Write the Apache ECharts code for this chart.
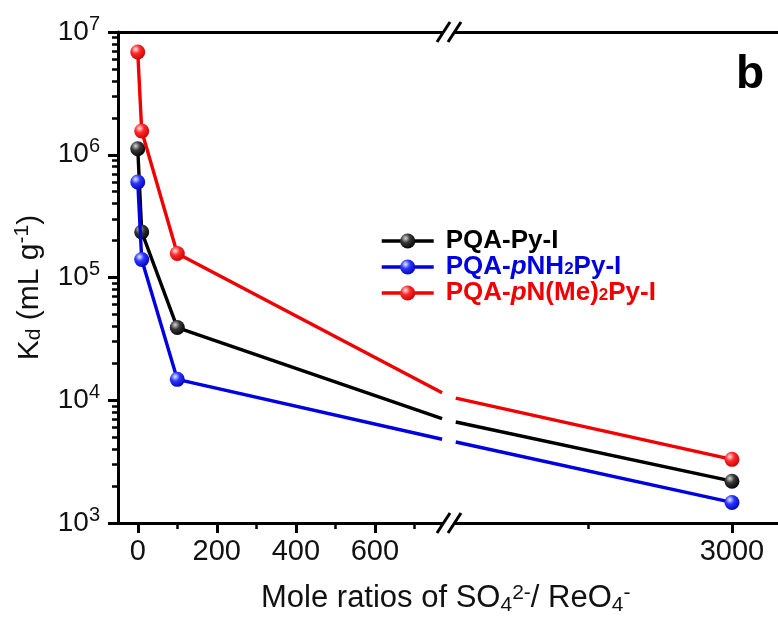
<!DOCTYPE html>
<html>
<head>
<meta charset="utf-8">
<script src="https://cdn.jsdelivr.net/npm/echarts@6/dist/echarts.min.js"></script>
<style>
html, body { margin: 0; padding: 0; background: #fff; }
#chart { width: 778px; height: 617px; }
</style>
</head>
<body>
<div id="chart"></div>
<script>
// Distribution coefficient Kd (mL/g) versus SO4(2-)/ReO4(-) mole ratio
const ratiosLow = [0, 10, 100];
const ratioHigh = 3000;
const kdPyI = [1.12e6, 2.35e5, 3.91e4, 2.19e3];
const kdNH2 = [6.0e5, 1.40e5, 1.48e4, 1.47e3];
const kdNMe2 = [6.87e6, 1.56e6, 1.57e5, 3.30e3];

// Where each curve meets the broken x-axis: left side (770) and right side (2040)
const breakEdgeX = [770, 2040];
const edgePyI = [7.08e3, 6.65e3];
const edgeNH2 = [4.81e3, 4.57e3];
const edgeNMe2 = [1.15e4, 1.04e4];

const seriesNames = ['PQA-Py-I', 'PQA-pNH2Py-I', 'PQA-pN(Me)2Py-I'];

// Axis ticks and labels
const xMajorLow = [0, 200, 400, 600];
const xMinorLow = [100, 300, 500, 700];
const xMajorHigh = [3000];
const xMinorHigh = [2500];
const yMajor = [1e3, 1e4, 1e5, 1e6, 1e7];
const yMinor = [];
for (let d = 3; d < 7; d++) {
  for (let m = 2; m <= 9; m++) yMinor.push(m * Math.pow(10, d));
}

// Layout of the two panels of the broken x-axis
const FONT = '"Liberation Sans", Arial, Helvetica, sans-serif';
const PLOT = { left: 118, top: 32, bottom: 94, split: 450 };
const xRangeLow = [-50, 790];
const xRangeHigh = [2020, 3160];

function ball(c0, c1, c2) {
  return {
    type: 'radial', x: 0.36, y: 0.32, r: 0.75,
    colorStops: [
      { offset: 0, color: c0 },
      { offset: 0.4, color: c1 },
      { offset: 1, color: c2 }
    ]
  };
}

const palette = [
  { line: '#000000', ball: ball('#d6d6d6', '#383838', '#000000') },
  { line: '#0000e0', ball: ball('#e8eaff', '#2a36ff', '#0000b0') },
  { line: '#f00000', ball: ball('#ffe2e2', '#ff2a2a', '#c40000') }
];

const kdSets = [kdPyI, kdNH2, kdNMe2];
const edgeSets = [edgePyI, edgeNH2, edgeNMe2];

function lineSeries(i, panel) {
  const kd = kdSets[i];
  const edge = edgeSets[i];
  let data;
  if (panel === 0) {
    data = ratiosLow.map((x, k) => [x, kd[k]]);
    data.push({ value: [breakEdgeX[0], edge[0]], symbol: 'none' });
  } else {
    data = [
      { value: [breakEdgeX[1], edge[1]], symbol: 'none' },
      [ratioHigh, kd[3]]
    ];
  }
  return {
    name: seriesNames[i],
    type: 'line',
    xAxisIndex: panel === 0 ? 0 : 3,
    yAxisIndex: panel === 0 ? 0 : 2,
    data: data,
    symbol: 'circle',
    symbolSize: 15,
    lineStyle: { color: palette[i].line, width: 3.4 },
    itemStyle: { color: palette[i].ball },
    emphasis: { disabled: true },
    z: 3 + i
  };
}

const series = [];
for (let i = 0; i < 3; i++) {
  series.push(lineSeries(i, 0));
  series.push(lineSeries(i, 1));
}

const axisLineStyle = { color: '#000', width: 3 };
const tickMajor = { color: '#000', width: 3 };
const tickMinor = { color: '#000', width: 2.5 };

function bottomAxis(grid, range, majors, minors) {
  return [
    {
      gridIndex: grid, type: 'value', position: 'bottom', min: range[0], max: range[1],
      axisLine: { onZero: false, lineStyle: axisLineStyle },
      axisTick: { customValues: majors, length: 10, lineStyle: tickMajor },
      axisLabel: {
        customValues: majors, fontSize: 29, margin: 14, color: '#111', fontFamily: FONT,
        formatter: v => String(v)
      },
      splitLine: { show: false }
    },
    {
      gridIndex: grid, type: 'value', position: 'bottom', min: range[0], max: range[1],
      axisLine: { show: false, onZero: false },
      axisTick: { customValues: minors, length: 6, lineStyle: tickMinor },
      axisLabel: { show: false },
      splitLine: { show: false }
    },
    {
      gridIndex: grid, type: 'value', position: 'top', min: range[0], max: range[1],
      axisLine: { onZero: false, lineStyle: axisLineStyle },
      axisTick: { show: false },
      axisLabel: { show: false },
      splitLine: { show: false }
    }
  ];
}

const legendText = {
  'PQA-Py-I': 'PQA-Py-I',
  'PQA-pNH2Py-I': 'PQA-{bi|p}NH{bs|2}Py-I',
  'PQA-pN(Me)2Py-I': 'PQA-{ri|p}N(Me){rs|2}Py-I'
};

// "//" marks drawn on the top and bottom axis lines at the break
function breakMark(y) {
  const cx = PLOT.split - 1;
  const h = 10;
  const s = { stroke: '#000', lineWidth: 3 };
  return [
    { type: 'polygon', z: 100, silent: true,
      shape: { points: [[cx - 11, y + h], [cx + 1, y - h], [cx + 12, y - h], [cx, y + h]] },
      style: { fill: '#fff' } },
    { type: 'line', z: 101, silent: true,
      shape: { x1: cx - 12, y1: y + h, x2: cx + 1, y2: y - h }, style: s },
    { type: 'line', z: 101, silent: true,
      shape: { x1: cx - 1, y1: y + h, x2: cx + 12, y2: y - h }, style: s }
  ];
}

const chart = echarts.init(document.getElementById('chart'), null, { renderer: 'canvas' });
const H = 617;
const plotBottomY = H - PLOT.bottom;

chart.setOption({
  backgroundColor: '#fff',
  animation: false,
  textStyle: { fontFamily: FONT },
  title: [
    {
      text: 'Mole ratios of SO{sub|4}{sup|2-}/ ReO{sub|4}{sup|-}',
      left: 261, top: 583, padding: 0,
      textStyle: {
        fontFamily: FONT, fontSize: 31, fontWeight: 'normal', color: '#111',
        rich: {
          sub: { fontFamily: FONT, fontSize: 21, color: '#111', verticalAlign: 'bottom', lineHeight: 21, padding: [0, 0, -2, 0] },
          sup: { fontFamily: FONT, fontSize: 21, color: '#111', verticalAlign: 'top', lineHeight: 21 }
        }
      }
    },
    {
      text: 'b', left: 736, top: 52, padding: 0,
      textStyle: { fontFamily: FONT, fontSize: 46, fontWeight: 'bold', color: '#000' }
    }
  ],
  legend: {
    orient: 'vertical', left: 380, top: 228, padding: 0,
    itemWidth: 52, itemHeight: 19, itemGap: 0,
    selectedMode: false,
    lineStyle: { width: 3.4 },
    data: seriesNames.map((n, i) => ({ name: n, textStyle: { color: palette[i].line } })),
    formatter: name => legendText[name],
    textStyle: {
      fontFamily: FONT, fontSize: 26, fontWeight: 'bold', padding: [0, 0, 0, 7],
      rich: {
        bi: { fontFamily: FONT, fontSize: 26, fontWeight: 'bold', fontStyle: 'italic', color: palette[1].line },
        bs: { fontFamily: FONT, fontSize: 17, fontWeight: 'bold', color: palette[1].line, verticalAlign: 'bottom', padding: [0, 0, 2, 0] },
        ri: { fontFamily: FONT, fontSize: 26, fontWeight: 'bold', fontStyle: 'italic', color: palette[2].line },
        rs: { fontFamily: FONT, fontSize: 17, fontWeight: 'bold', color: palette[2].line, verticalAlign: 'bottom', padding: [0, 0, 2, 0] }
      }
    }
  },
  grid: [
    { left: PLOT.left, top: PLOT.top, bottom: PLOT.bottom, width: PLOT.split - PLOT.left },
    { left: PLOT.split, top: PLOT.top, bottom: PLOT.bottom, right: 0 }
  ],
  xAxis: [].concat(
    bottomAxis(0, xRangeLow, xMajorLow, xMinorLow),
    bottomAxis(1, xRangeHigh, xMajorHigh, xMinorHigh)
  ),
  yAxis: [
    {
      gridIndex: 0, type: 'log', logBase: 10, min: 1e3, max: 1e7, position: 'left',
      axisLine: { onZero: false, lineStyle: axisLineStyle },
      axisTick: { customValues: yMajor, length: 10, lineStyle: tickMajor },
      axisLabel: {
        customValues: yMajor, margin: 18, color: '#111',
        formatter: v => '{b|10}{s|' + Math.round(Math.log10(v)) + '}',
        rich: {
          b: { fontFamily: FONT, fontSize: 28, color: '#111', lineHeight: 36 },
          s: { fontFamily: FONT, fontSize: 20, color: '#111', verticalAlign: 'top', lineHeight: 20 }
        }
      },
      splitLine: { show: false },
      name: '{n|K}{d|d}{n| (mL g}{e|-1}{n|)}',
      nameLocation: 'middle', nameRotate: 90, nameGap: 70,
      nameTextStyle: {
        fontFamily: FONT, fontSize: 30, color: '#111', padding: [0, 20, 0, 0],
        rich: {
          n: { fontFamily: FONT, fontSize: 30, color: '#111', lineHeight: 36 },
          d: { fontFamily: FONT, fontSize: 21, color: '#111', verticalAlign: 'bottom', lineHeight: 21, padding: [0, 0, 3, 0] },
          e: { fontFamily: FONT, fontSize: 21, color: '#111', verticalAlign: 'top', lineHeight: 21 }
        }
      }
    },
    {
      gridIndex: 0, type: 'log', logBase: 10, min: 1e3, max: 1e7, position: 'left',
      axisLine: { show: false, onZero: false },
      axisTick: { customValues: yMinor, length: 6, lineStyle: tickMinor },
      axisLabel: { show: false },
      splitLine: { show: false }
    },
    {
      gridIndex: 1, type: 'log', logBase: 10, min: 1e3, max: 1e7, show: false
    }
  ],
  series: series,
  graphic: [].concat(breakMark(PLOT.top), breakMark(plotBottomY))
});
</script>
</body>
</html>
